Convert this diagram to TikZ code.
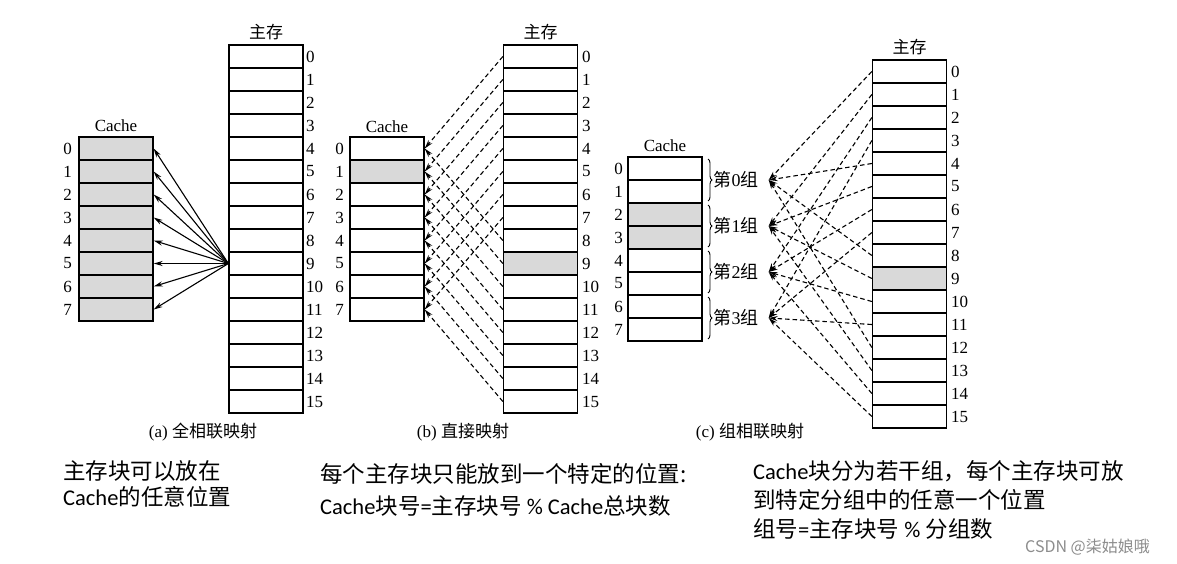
\documentclass[tikz,border=0pt]{standalone}
\usepackage{fontspec}
\setmainfont{Liberation Serif}
\newfontfamily\cjk{Noto Sans CJK SC}
\newfontfamily\calib{Carlito}
\usetikzlibrary{arrows.meta,decorations.pathreplacing}

\begin{document}
\begin{tikzpicture}[x=1pt,y=-1pt,
    cell/.style={draw, line width=1.3pt, minimum width=74pt, minimum height=23pt, inner sep=0pt},
    hit/.style={cell, fill=black!15},
    num/.style={font=\fontsize{17}{17}\selectfont, inner sep=0pt},
    head/.style={font=\fontsize{17}{17}\selectfont, inner sep=0pt},
    grp/.style={font=\fontsize{18}{18}\selectfont, inner xsep=10pt, inner ysep=0pt},
    link/.style={line width=1.1pt, -{Stealth[length=9pt,width=5pt]}},
    dlink/.style={link, dash pattern=on 4.5pt off 3pt},
    note/.style={font=\cjk\fontsize{22.5}{22.5}\selectfont, anchor=west, inner sep=0pt}
]
    \useasboundingbox (0,0) rectangle (1177,563);

    % --- (a) Fully associative ---
    \node[head] (ahc) at (116,126) {Cache};
    \node[head] (ahm) at (266,32) {\cjk\fontsize{17}{17}\selectfont 主存};
    \foreach \i in {0,...,7} {
        \node[hit] (ac\i) at (116,148.5+23*\i) {};
        \node[num, anchor=east] (acn\i) at (72,148.5+23*\i) {\i};
    }
    \foreach \i in {0,...,15} {
        \node[cell] (am\i) at (266,56.5+23*\i) {};
        \node[num, anchor=west] (amn\i) at (306,56.5+23*\i) {\i};
    }
    \foreach \i in {0,...,7}
        \draw[link] (am9.west) -- (ac\i.east);
    \node[head] (acap) at (203,432) {(a) {\cjk 全相联映射}};

    % --- (b) Direct mapped ---
    \node[head] (bhc) at (387,127) {Cache};
    \node[head] (bhm) at (540.5,32) {\cjk\fontsize{17}{17}\selectfont 主存};
    \foreach \i in {0,...,7} {
        \node[cell] (bc\i) at (387,148.5+23*\i) {};
        \node[num, anchor=east] (bcn\i) at (344,148.5+23*\i) {\i};
    }
    \node[hit] at (bc1) {};
    \foreach \i in {0,...,15} {
        \node[cell] (bm\i) at (540.5,56.5+23*\i) {};
        \node[num, anchor=west] (bmn\i) at (582,56.5+23*\i) {\i};
    }
    \node[hit] at (bm9) {};
    \foreach \i in {0,...,15} {
        \pgfmathtruncatemacro\j{mod(\i,8)}
        \draw[dlink] (bm\i.west) -- (bc\j.east);
    }
    \node[head] (bcap) at (463,432) {(b) {\cjk 直接映射}};

    % --- (c) Set associative ---
    \node[head] (chc) at (665,146) {Cache};
    \node[head] (chm) at (909.5,47) {\cjk\fontsize{17}{17}\selectfont 主存};
    \foreach \i in {0,...,7} {
        \node[cell] (cc\i) at (665,168.5+23*\i) {};
        \node[num, anchor=east] (ccn\i) at (623,168.5+23*\i) {\i};
    }
    \node[hit] at (cc2) {};
    \node[hit] at (cc3) {};
    \foreach \i in {0,...,15} {
        \node[cell] (cm\i) at (909.5,71.5+23*\i) {};
        \node[num, anchor=west] (cmn\i) at (951,71.5+23*\i) {\i};
    }
    \node[hit] at (cm9) {};
    % braces and set labels
    \foreach \g in {0,...,3} {
        \draw[decorate, decoration={brace, amplitude=4pt}, line width=0.9pt]
            (708,159+46*\g) -- (708,201+46*\g);
        \node[grp] (g\g) at (736,180+46*\g) {{\cjk 第}\g{\cjk 组}};
    }
    \foreach \i in {0,...,15} {
        \pgfmathtruncatemacro\j{mod(\i,4)}
        \draw[dlink] (cm\i.west) -- (g\j.east);
    }
    \node[head] (ccap) at (750,432) {(c) {\cjk 组相联映射}};

    % --- Notes ---
    \node[note] (n1a) at (63,471) {主存块可以放在};
    \node[note] (n1b) at (63,497) {{\calib Cache}的任意位置};
    \node[note] (n2a) at (320,474) {每个主存块只能放到一个特定的位置:};
    \node[note] (n2b) at (320,506) {{\calib Cache}块号{\calib =}主存块号 {\calib\% Cache}总块数};
    \node[note] (n3a) at (753,471) {{\calib Cache}块分为若干组，每个主存块可放};
    \node[note] (n3b) at (753,500) {到特定分组中的任意一个位置};
    \node[note] (n3c) at (753,529) {组号{\calib =}主存块号 {\calib\%} 分组数};

    \node[anchor=west, inner sep=0pt, text=black!45, font=\cjk\fontsize{16}{16}\selectfont]
        (mark) at (1025,547) {CSDN @柒姑娘哦};

\end{tikzpicture}
\end{document}
